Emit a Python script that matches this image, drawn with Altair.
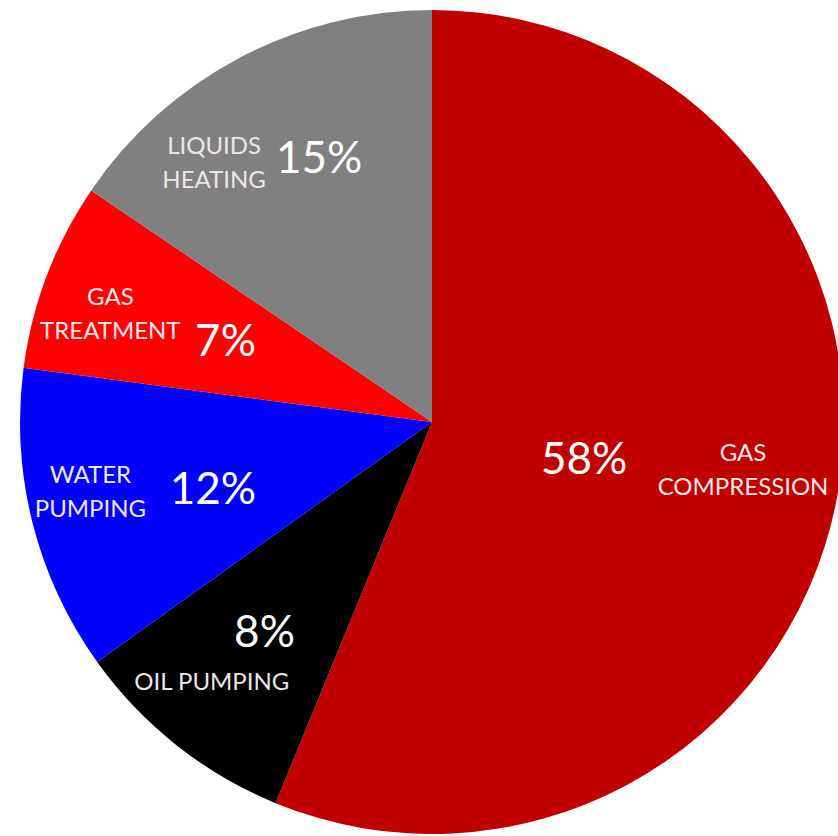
import altair as alt
import pandas as pd

# ---- data ----
categories = ["GAS COMPRESSION", "OIL PUMPING", "WATER PUMPING", "GAS TREATMENT", "LIQUIDS HEATING"]
name_lines = ["GAS\nCOMPRESSION", "OIL PUMPING", "WATER\nPUMPING", "GAS\nTREATMENT", "LIQUIDS\nHEATING"]
shares = [56.2, 8.9, 12.0, 7.4, 15.5]          # slice sizes as drawn
pct_labels = ["58%", "8%", "12%", "7%", "15%"]  # printed labels
slice_order = [0, 1, 2, 3, 4]
colors = ["#C00000", "#000000", "#0000FF", "#FF0000", "#808080"]

df = pd.DataFrame({
    "category": categories,
    "name": name_lines,
    "share": shares,
    "pct": pct_labels,
    "order": slice_order,
})

CX, CY, R = 432, 422, 412

base = alt.Chart(df).encode(
    theta=alt.Theta("share:Q", stack=True),
    order=alt.Order("order:Q"),
    x=alt.value(CX),
    y=alt.value(CY),
)

pie = base.mark_arc(outerRadius=R).encode(
    color=alt.Color("category:N", scale=alt.Scale(domain=categories, range=colors), legend=None)
)


def label(cat, field, r, dx, dy, size, color):
    return base.transform_calculate(
        t=f"datum.category == '{cat}' ? datum.{field} : ''"
    ).mark_text(
        radius=r, dx=dx, dy=dy, fontSize=size, font="Lato", color=color,
        lineBreak="\n", lineHeight=34, align="center", baseline="middle",
    ).encode(text="t:N")


BIG, SMALL = 44, 24
WHITE, SOFT = "#FFFFFF", "#EDE6E6"

layers = [
    label("GAS COMPRESSION", "pct", 155, 0, 9, BIG, WHITE),
    label("GAS COMPRESSION", "name", 315, 2, -29, SMALL, SOFT),
    label("OIL PUMPING", "pct", 270, 0, 0, BIG, WHITE),
    label("OIL PUMPING", "name", 342, -8, -7, SMALL, SOFT),
    label("WATER PUMPING", "pct", 229, 3, 13, BIG, WHITE),
    label("WATER PUMPING", "name", 349, -3, -31, SMALL, SOFT),
    label("GAS TREATMENT", "pct", 221, 0, 0, BIG, WHITE),
    label("GAS TREATMENT", "name", 340, -4, -3, SMALL, SOFT),
    label("LIQUIDS HEATING", "pct", 284, 20, -11, BIG, WHITE),
    label("LIQUIDS HEATING", "name", 331, -63, 18, SMALL, SOFT),
]

chart = alt.layer(pie, *layers).properties(
    width=838, height=836, padding=0, autosize="none", background="white"
).configure_view(stroke=None)

chart.save("out.html", embed_options={"renderer": "svg", "actions": False})
